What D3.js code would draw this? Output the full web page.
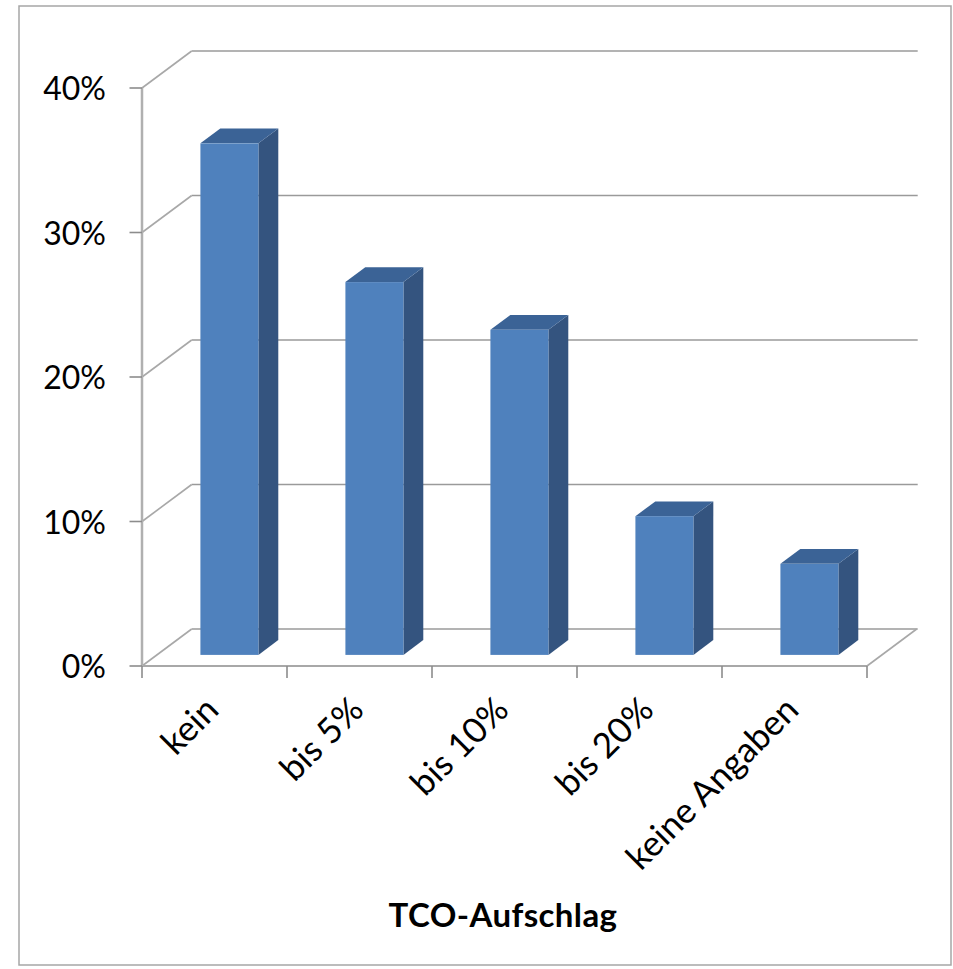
<!DOCTYPE html>
<html>
<head>
<meta charset="utf-8">
<script src="https://cdn.jsdelivr.net/npm/d3@7/dist/d3.min.js"></script>
<style>
  html, body { margin: 0; padding: 0; background: #fff; }
  svg { display: block; }
  text { font-family: Lato, "Open Sans", sans-serif; fill: #000; }
</style>
</head>
<body>
<svg id="chart" width="953" height="969"></svg>
<script>
// Survey: acceptable TCO surcharge (share of answers, %)
const categories = ["kein", "bis 5%", "bis 10%", "bis 20%", "keine Angaben"];
const shares = [35.4, 25.8, 22.5, 9.6, 6.3];
const yTicks = [0, 10, 20, 30, 40];
const yTickLabels = ["0%", "10%", "20%", "30%", "40%"];
const axisTitle = "TCO-Aufschlag";

const svg = d3.select("#chart");

// frame
svg.append("rect")
  .attr("x", 19).attr("y", 6).attr("width", 932).attr("height", 959)
  .attr("fill", "#fff").attr("stroke", "#a6a6a6").attr("stroke-width", 1.5);

// front plane scales
const x = d3.scaleBand().domain(categories).range([142, 867])
  .paddingInner(0.6).paddingOuter(0.3);
const y = d3.scaleLinear().domain([0, 40]).range([666, 88]);

// oblique depth of the 3D box
const depthX = 49.7, depthY = -37;
const barFront = 0.3, barBack = 0.7;

const grid = svg.append("g").attr("fill", "none");

// back wall gridlines and side diagonals
yTicks.forEach(t => {
  grid.append("line")
    .attr("x1", 142 + depthX).attr("x2", 917.7)
    .attr("y1", y(t) + depthY).attr("y2", y(t) + depthY)
    .attr("stroke", "#9a9a9a").attr("stroke-width", 1.6);
  grid.append("line")
    .attr("x1", 142).attr("y1", y(t))
    .attr("x2", 142 + depthX).attr("y2", y(t) + depthY)
    .attr("stroke", "#a8a8a8").attr("stroke-width", 1.6);
});

// floor: front edge and right diagonal
grid.append("line")
  .attr("x1", 142).attr("x2", 867).attr("y1", y(0)).attr("y2", y(0))
  .attr("stroke", "#a8a8a8").attr("stroke-width", 2.2);
grid.append("line")
  .attr("x1", 867).attr("y1", y(0))
  .attr("x2", 867 + depthX).attr("y2", y(0) + depthY)
  .attr("stroke", "#a8a8a8").attr("stroke-width", 1.6);

// value axis line and ticks
grid.append("line")
  .attr("x1", 142).attr("x2", 142).attr("y1", y(40)).attr("y2", y(0))
  .attr("stroke", "#b0b0b0").attr("stroke-width", 2.5);
yTicks.forEach(t => {
  grid.append("line")
    .attr("x1", 129.5).attr("x2", 142).attr("y1", y(t)).attr("y2", y(t))
    .attr("stroke", "#8c8c8c").attr("stroke-width", 1.6);
});

// category ticks at band boundaries
const step = x.step();
d3.range(categories.length + 1).forEach(i => {
  const tx = 142 + i * step;
  grid.append("line")
    .attr("x1", tx).attr("x2", tx).attr("y1", y(0)).attr("y2", y(0) + 12)
    .attr("stroke", "#8c8c8c").attr("stroke-width", 1.6);
});

// value labels
svg.append("g").selectAll("text").data(yTicks).join("text")
  .attr("x", 106).attr("y", d => y(d) + 12)
  .attr("text-anchor", "end")
  .attr("font-size", 32)
  .text((d, i) => yTickLabels[i]);

// bars as 3D boxes
const fx = barFront * depthX, fy = barFront * depthY;
const bx = barBack * depthX, by = barBack * depthY;
const bars = svg.append("g");
categories.forEach((c, i) => {
  const x0 = x(c) + fx, x1 = x0 + x.bandwidth();
  const yb = y(0) + fy, yt = y(shares[i]) + fy;
  const dx = bx - fx, dy = by - fy;
  const g = bars.append("g");
  // right side
  g.append("path")
    .attr("d", `M${x1},${yt} L${x1 + dx},${yt + dy} L${x1 + dx},${yb + dy} L${x1},${yb} Z`)
    .attr("fill", "#34547f");
  // top
  g.append("path")
    .attr("d", `M${x0},${yt} L${x0 + dx},${yt + dy} L${x1 + dx},${yt + dy} L${x1},${yt} Z`)
    .attr("fill", "#3b6396");
  // front
  g.append("rect")
    .attr("x", x0).attr("y", yt).attr("width", x1 - x0).attr("height", yb - yt)
    .attr("fill", "#4f81bd");
});

// category labels, rotated
svg.append("g").selectAll("text").data(categories).join("text")
  .attr("transform", d => `translate(${x(d) + x.bandwidth() / 2 + 6},${y(0) + 46}) rotate(-45)`)
  .attr("text-anchor", "end")
  .attr("font-size", 35)
  .text(d => d);

// axis title
svg.append("text")
  .attr("x", 503).attr("y", 927)
  .attr("text-anchor", "middle")
  .attr("font-size", 33).attr("font-weight", "bold")
  .attr("letter-spacing", 0.4)
  .text(axisTitle);
</script>
</body>
</html>
